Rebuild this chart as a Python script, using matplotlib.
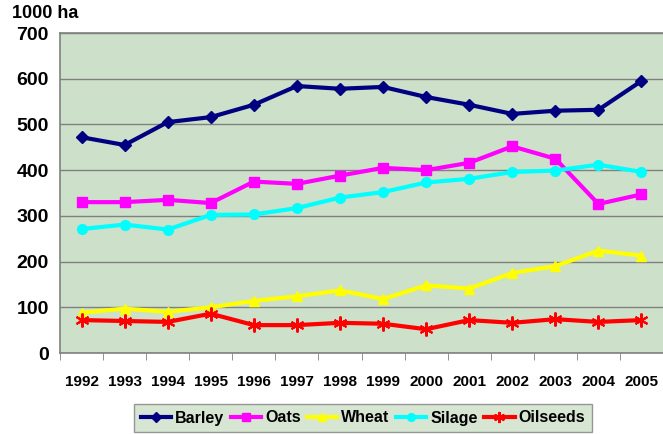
import matplotlib.pyplot as plt

years = ["1992", "1993", "1994", "1995", "1996", "1997", "1998",
         "1999", "2000", "2001", "2002", "2003", "2004", "2005"]
barley = [472, 455, 505, 516, 543, 584, 578, 582, 560, 543, 523, 530, 532, 595]
oats = [330, 330, 335, 328, 375, 370, 388, 405, 400, 416, 452, 425, 326, 347]
wheat = [88, 97, 90, 100, 114, 124, 137, 118, 148, 141, 175, 190, 224, 213]
silage = [271, 281, 270, 302, 303, 317, 340, 352, 373, 381, 396, 399, 412, 396]
oilseeds = [72, 70, 68, 86, 61, 61, 66, 64, 52, 72, 66, 74, 68, 72]

plt.rcParams['font.family'] = ['Liberation Sans', 'DejaVu Sans']
plt.rcParams['font.weight'] = 'bold'

fig = plt.figure(figsize=(6.63, 4.34), dpi=100)
ax = fig.add_axes([60 / 663, 1 - 353 / 434, 603 / 663, 320 / 434])
ax.set_facecolor('#cde0c9')

x = list(range(len(years)))
ax.plot(x, barley, color='#000080', lw=3, marker='D', ms=6.5, label='Barley')
ax.plot(x, oats, color='#ff00ff', lw=3, marker='s', ms=7.5, label='Oats')
ax.plot(x, wheat, color='#ffff00', lw=3, marker='^', ms=7.5, label='Wheat')
ax.plot(x, silage, color='#00ffff', lw=3, marker='o', ms=7, label='Silage')
ax.plot(x, oilseeds, color='#ff0000', lw=3, marker=(6, 2, 0), ms=10, mew=1.5,
        label='Oilseeds')

ax.set_xlim(-0.5, len(years) - 0.5)
ax.set_ylim(0, 700)
ax.set_yticks(range(0, 701, 100))
ax.yaxis.grid(True, color='#808080', lw=1)
ax.set_axisbelow(True)
ax.tick_params(axis='y', length=0, labelsize=14, pad=8)
ax.set_xticks(x)
ax.set_xticklabels(years)
ax.set_xticks([i - 0.5 for i in range(len(years) + 1)], minor=True)
ax.tick_params(axis='x', which='major', length=0, labelsize=11, pad=16)
ax.tick_params(axis='x', which='minor', length=5, color='#808080')

for s in ['left', 'bottom', 'top']:
    ax.spines[s].set_color('#808080')
    ax.spines[s].set_linewidth(1.2)
ax.spines['right'].set_visible(False)

fig.text(12 / 663, 1 - 13 / 434, '1000 ha', fontsize=13, fontweight='bold',
         va='center', ha='left')

leg = fig.legend(loc='center', bbox_to_anchor=(363 / 663, 1 - 418 / 434), ncol=5,
                 fontsize=11.5, frameon=True, fancybox=False, handlelength=1.9,
                 columnspacing=0.4, handletextpad=0.25, borderpad=0.4,
                 markerscale=0.8)
leg.get_frame().set_facecolor('#cde0c9')
leg.get_frame().set_edgecolor('#808080')

fig.savefig('out.png', dpi=100)
